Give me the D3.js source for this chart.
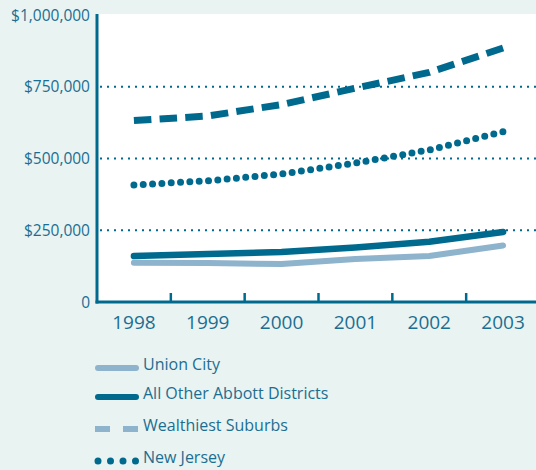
<!DOCTYPE html>
<html>
<head>
<meta charset="utf-8">
<script src="https://cdn.jsdelivr.net/npm/d3@7"></script>
<style>
body { margin: 0; background: #e9f3f1; }
svg { display: block; font-family: "Open Sans", sans-serif; }
.tick-y { font-size: 15.5px; fill: #1b6e91; }
.tick-x { font-size: 19px; fill: #1b6e91; }
.leg { font-size: 16px; fill: #1b6e91; }
</style>
</head>
<body>
<svg width="536" height="470"></svg>
<script>
var years = [1998, 1999, 2000, 2001, 2002, 2003];
var unionCity = [137000, 136000, 132000, 150000, 160000, 197000];
var otherAbbott = [160000, 167000, 174000, 190000, 210000, 244000];
var wealthiest = [632000, 648000, 688000, 745000, 800000, 885000];
var newJersey = [408000, 422000, 446000, 484000, 530000, 593000];
var yTicks = [0, 250000, 500000, 750000, 1000000];
var seriesNames = ["Union City", "All Other Abbott Districts", "Wealthiest Suburbs", "New Jersey"];

var dark = "#006a8e", light = "#8eb3cc";
var svg = d3.select("svg");
var left = 97, topY = 14, bottom = 302, right = 540;

svg.append("rect")
  .attr("x", left).attr("y", topY)
  .attr("width", 536 - left).attr("height", bottom - topY)
  .attr("fill", "#fff");

var x = d3.scaleBand().domain(years).range([left, right]);
var y = d3.scaleLinear().domain([0, 1000000]).range([bottom, topY + 1]);

// dotted grid
svg.selectAll(".grid")
  .data(yTicks.filter(function(d) { return d > 0 && d < 1000000; }))
  .enter().append("line")
  .attr("x1", left + 3).attr("x2", 536)
  .attr("y1", function(d) { return y(d); })
  .attr("y2", function(d) { return y(d); })
  .attr("stroke", dark)
  .attr("stroke-width", 2)
  .attr("stroke-dasharray", "2,5");

// y labels
var fmt = function(d) { return d === 0 ? "0" : "$" + d3.format(",")(d); };
svg.selectAll(".tick-y")
  .data(yTicks).enter().append("text")
  .attr("class", "tick-y")
  .attr("x", 90)
  .attr("y", function(d) { return y(d) + 5.5; })
  .attr("text-anchor", "end")
  .text(fmt);

// x labels
svg.selectAll(".tick-x")
  .data(years).enter().append("text")
  .attr("class", "tick-x")
  .attr("x", function(d) { return x(d) + x.bandwidth() / 2; })
  .attr("y", 329)
  .attr("text-anchor", "middle")
  .text(function(d) { return d; });

// x tick marks between bands
svg.selectAll(".xt")
  .data(years.slice(1)).enter().append("line")
  .attr("x1", function(d) { return x(d); })
  .attr("x2", function(d) { return x(d); })
  .attr("y1", bottom).attr("y2", bottom - 9)
  .attr("stroke", dark).attr("stroke-width", 2.5);

// axes
svg.append("line").attr("x1", left).attr("x2", left).attr("y1", topY).attr("y2", bottom + 1.5)
  .attr("stroke", dark).attr("stroke-width", 3);
svg.append("line").attr("x1", left - 1.5).attr("x2", 536).attr("y1", bottom).attr("y2", bottom)
  .attr("stroke", dark).attr("stroke-width", 3);

var line = d3.line()
  .x(function(d, i) { return x(years[i]) + x.bandwidth() / 2; })
  .y(function(d) { return y(d); });

var styles = [
  { data: unionCity, color: light, width: 6, type: "solid", legColor: light },
  { data: otherAbbott, color: dark, width: 6.5, type: "solid", legColor: dark },
  { data: wealthiest, color: dark, width: 7, type: "dash", legColor: light },
  { data: newJersey, color: dark, width: 7, type: "dot", legColor: dark }
];

styles.forEach(function(s) {
  var p = svg.append("path")
    .attr("d", line(s.data))
    .attr("fill", "none")
    .attr("stroke", s.color)
    .attr("stroke-width", s.width)
    .attr("stroke-linecap", s.type === "dash" ? "butt" : "round")
    .attr("stroke-linejoin", "round");
  var L = p.node().getTotalLength();
  if (s.type === "dash") {
    // fit the pattern so the line begins and ends with a dash
    var n = Math.round((L + 8) / 25);
    var k = L / (25 * n - 8);
    p.attr("stroke-dasharray", (17 * k) + "," + (8 * k));
  } else if (s.type === "dot") {
    var m = Math.round(L / 9.3);
    p.attr("stroke-dasharray", "0," + ((L - 0.2) / m));
  }
});

// legend
var legY = [368, 397, 429, 461];
styles.forEach(function(s, i) {
  var ly = legY[i];
  var ln = svg.append("line")
    .attr("x1", s.type === "dash" ? 95 : 98)
    .attr("x2", s.type === "dash" ? 138 : 136)
    .attr("y1", ly).attr("y2", ly)
    .attr("stroke", s.legColor)
    .attr("stroke-width", s.type === "dot" ? 7 : 6)
    .attr("stroke-linecap", s.type === "dash" ? "butt" : "round");
  if (s.type === "dash") ln.attr("stroke-dasharray", "15,13");
  if (s.type === "dot") ln.attr("stroke-dasharray", "0,12.5");
  svg.append("text")
    .attr("class", "leg")
    .attr("x", 143).attr("y", ly + 1.5)
    .text(seriesNames[i]);
});
</script>
</body>
</html>
